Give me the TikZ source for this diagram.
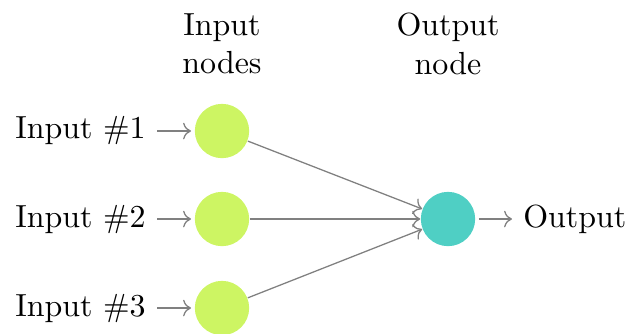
\documentclass[tikz,border=0pt]{standalone}
\usetikzlibrary{arrows.meta}
\definecolor{inputgreen}{RGB}{205,245,99}
\definecolor{outputteal}{RGB}{79,207,196}
\tikzset{
  neuron/.style={circle, minimum size=17pt, inner sep=0pt, draw=none},
  input neuron/.style={neuron, fill=inputgreen},
  output neuron/.style={neuron, fill=outputteal},
  link/.style={->, draw=gray, line width=0.4pt},
  labeltext/.style={inner sep=0.333em, font=\normalsize},
  header/.style={align=center, inner sep=0pt}
}
\begin{document}
\begin{tikzpicture}[x=0.011cm, y=-0.011cm]
  \useasboundingbox (0,0) rectangle (627,333);

  % input layer
  \node[input neuron] (i1) at (222,131) {};
  \node[input neuron] (i2) at (222,219) {};
  \node[input neuron] (i3) at (222,308) {};

  % output layer
  \node[output neuron] (o) at (448,219) {};

  % labels on the left and right
  \node[labeltext, anchor=east] (l1) at (157,131) {Input \#1};
  \node[labeltext, anchor=east] (l2) at (157,219) {Input \#2};
  \node[labeltext, anchor=east] (l3) at (157,308) {Input \#3};
  \node[labeltext, anchor=west] (lo) at (512,219) {Output};

  \draw[link, shorten >=1pt] (l1) -- (i1);
  \draw[link, shorten >=1pt] (l2) -- (i2);
  \draw[link, shorten >=1pt] (l3) -- (i3);
  \draw[link, shorten <=1pt] (o) -- (lo);

  % connections into the output node
  \draw[link] (i1) -- (o);
  \draw[link] (i2) -- (o);
  \draw[link] (i3) -- (o);

  % layer headings
  \node[header] (h1) at (222,44) {Input\\nodes};
  \node[header] (h2) at (448,44) {Output\\node};
\end{tikzpicture}
\end{document}
